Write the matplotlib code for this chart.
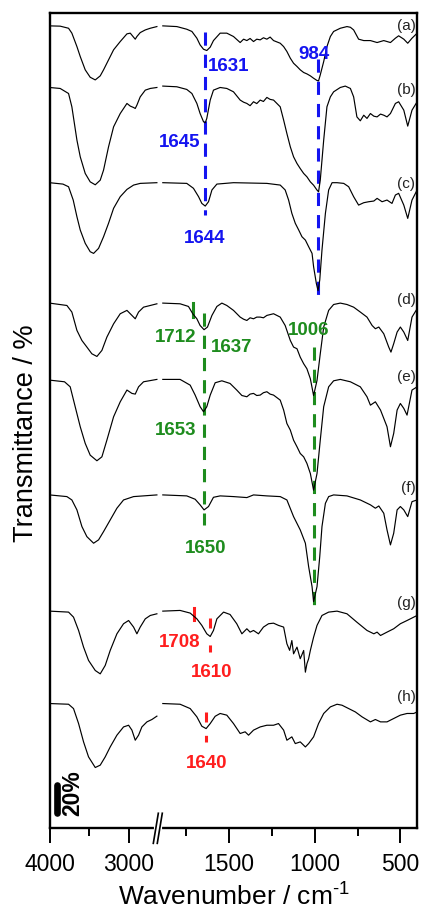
import matplotlib
matplotlib.use('Agg')  # no display
import matplotlib.pyplot as plt
import numpy as np

plt.rcParams['font.family'] = ['Liberation Sans', 'DejaVu Sans']
plt.rcParams['mathtext.fontset'] = 'custom'
plt.rcParams['mathtext.rm'] = 'Liberation Sans'
plt.rcParams['lines.scale_dashes'] = False

# ---- spectra: wavenumber (cm-1) and transmittance (%) ----
a_wn = [4000, 3865, 3759, 3717, 3653, 3611, 3548, 3485, 3421, 3358, 3316, 3253, 3189, 3105, 3020, 2978, 2936,
        2915, 2894, 2852, 2788, 2725, 2641,
        1888, 1806, 1748, 1718, 1689, 1670, 1650, 1631, 1611, 1592, 1553, 1514, 1475, 1436, 1416, 1397, 1378,
        1358, 1339, 1319, 1300, 1280, 1261, 1241, 1202, 1182, 1163, 1143, 1124, 1104, 1085, 1065, 1046, 1026,
        1007, 987, 978, 968, 948, 929, 909, 890, 851, 812, 792, 773, 744, 714, 675, 636, 597, 558, 529, 510,
        480, 457, 432, 402]
a_t = [100, 99.8, 98.3, 94.8, 85.2, 78.1, 68.6, 63.3, 61.4, 64.3, 68.6, 75.7, 82.9, 88.8, 94.3, 94.8, 91.9,
       90.5, 92.4, 95.2, 97.1, 98.3, 99.5,
       100, 99.5, 97.6, 96, 91.2, 86.4, 83.3, 82.4, 84.8, 89.5, 94.8, 94.8, 92.4, 88.1, 90.5, 89.5, 91,
       88.8, 90.5, 90, 91.5, 90.5, 92, 89.5, 87.6, 85.2, 81.7, 76.9, 73.3, 71, 68.6, 66.7, 65.7, 64.3,
       62.6, 61, 60.7, 65, 74.5, 85.2, 92.4, 96, 98.3, 99.5, 99, 97.1, 90.5, 89.5, 89.5, 88.1, 89.5, 88.1,
       91.2, 92.9, 90.5, 87.6, 91.2, 94.8]

b_wn = [4000, 3865, 3759, 3717, 3653, 3611, 3548, 3485, 3421, 3358, 3316, 3253, 3189, 3105, 3020, 2978, 2936,
        2915, 2894, 2852, 2788, 2725, 2641,
        1888, 1806, 1748, 1718, 1689, 1670, 1650, 1640, 1631, 1611, 1592, 1553, 1514, 1475, 1436, 1416, 1397,
        1378, 1358, 1339, 1319, 1300, 1280, 1261, 1241, 1202, 1182, 1163, 1143, 1124, 1104, 1085, 1065, 1046,
        1026, 1007, 987, 978, 968, 948, 929, 909, 890, 851, 822, 792, 773, 754, 734, 714, 695, 675, 655, 636,
        616, 597, 578, 558, 529, 510, 480, 457, 432, 402]
b_t = [100, 99.3, 95.7, 86.2, 62.4, 50.5, 38.6, 32.6, 30.5, 33.8, 41, 57.6, 71.9, 81.4, 88.6, 86.7, 85.7,
       85, 87.4, 93.3, 98.1, 99.3, 100,
       101, 100.5, 98.6, 95.7, 88.6, 81.4, 75.5, 74.8, 77.9, 91, 98.1, 100, 99.3, 96.9, 91, 89.5, 88.6,
       87, 89.8, 88.5, 91, 90, 92.9, 91.5, 91, 86.2, 76.7, 67.1, 57.6, 50.5, 45.7, 42.1, 38.6, 36.2,
       32.6, 30.2, 26.7, 25.5, 33.8, 62.4, 86.2, 93.3, 96.9, 100, 101, 99.3, 93.3, 79, 76.2, 80.2, 77.9,
       81.4, 79.5, 79, 81, 80.2, 79, 81.4, 88.6, 89.8, 83.8, 72.4, 83.8, 89.8]

c_wn = [4000, 3830, 3759, 3700, 3653, 3611, 3548, 3485, 3442, 3379, 3316, 3253, 3189, 3105, 3020, 2936, 2852,
        2641,
        1888, 1748, 1709, 1679, 1660, 1640, 1621, 1601, 1572, 1475, 1280, 1202, 1173, 1153, 1134, 1114, 1094,
        1075, 1055, 1036, 1026, 1016, 1007, 991, 981, 971, 958, 938, 919, 899, 870, 831, 802, 773, 744, 714,
        685, 655, 636, 607, 578, 549, 529, 510, 480, 457, 432, 402]
c_t = [100, 99, 97.1, 87.6, 75.7, 66.2, 56.7, 50.7, 49.5, 53.1, 61.4, 71, 81.7, 90, 95.2, 98.3, 99.5,
       100,
       100, 99.5, 96, 90, 85.2, 83.3, 86.4, 94.8, 99, 100, 99.5, 98.3, 94.8, 87.6, 78.1, 71, 66.2,
       61.4, 59, 54.3, 51.9, 49.5, 40, 28.1, 22.9, 30.5, 51.9, 78.1, 94.8, 100, 100, 99.5, 97.1, 90, 84, 85.7,
       86.4, 86.9, 88.8, 86.4, 87.6, 85.2, 91.2, 92.4, 84, 74.5, 87.6, 94.8]

d_wn = [4000, 3780, 3717, 3653, 3590, 3527, 3464, 3400, 3337, 3274, 3189, 3105, 3020, 2957, 2915, 2873, 2810,
        2725, 2641,
        1888, 1787, 1738, 1713, 1689, 1670, 1647, 1627, 1601, 1572, 1543, 1514, 1475, 1436, 1416, 1397, 1378,
        1358, 1339, 1319, 1300, 1280, 1241, 1202, 1173, 1143, 1124, 1104, 1085, 1065, 1046, 1026, 1007, 987,
        968, 948, 919, 890, 851, 812, 773, 734, 695, 665, 646, 626, 597, 568, 555, 539, 519, 500, 480, 457,
        432, 402]
d_t = [100, 98.3, 93.6, 80.5, 73.3, 68.6, 63.8, 61.9, 66.2, 75.7, 85.2, 92.4, 94.8, 91.2, 88.8, 93.6, 97.1,
       98.3, 99.5,
       100, 99.5, 97.6, 92.4, 88.8, 84, 81, 82.9, 91.2, 97.6, 100, 98.3, 94.8, 90, 88.5, 87.6, 89.5,
       88.8, 90, 90, 89.5, 91.2, 92.4, 90, 84, 73.3, 68.6, 67.4, 61.4, 56.7, 53.1, 46, 34, 44.8,
       63.8, 82.9, 94.8, 99, 100, 99, 97.1, 93.6, 90, 84, 81.7, 82.9, 78.1, 68.6, 65, 71, 79.3, 82.9, 79.3, 73.3,
       90, 96]

e_wn = [4000, 3810, 3738, 3675, 3611, 3548, 3485, 3400, 3337, 3274, 3189, 3105, 3020, 2957, 2915, 2873, 2810,
        2641,
        1888, 1787, 1728, 1699, 1670, 1650, 1631, 1611, 1582, 1543, 1495, 1456, 1426, 1397, 1378, 1358, 1339,
        1319, 1300, 1280, 1261, 1241, 1202, 1182, 1163, 1143, 1124, 1104, 1085, 1065, 1046, 1026, 1007, 987,
        968, 948, 919, 890, 851, 792, 734, 695, 675, 646, 616, 578, 558, 539, 519, 500, 480, 461, 432, 402]
e_t = [100, 98.8, 95.2, 81, 66.7, 54.8, 46.4, 42.4, 45.2, 57.1, 73.8, 84.5, 92.9, 90.5, 90, 95.2, 98.8,
       100.5,
       100.5, 100.5, 96.4, 89.3, 81, 77.4, 81, 89.3, 98.1, 99.5, 97.6, 92.9, 89, 88.1, 90, 90.5, 89,
       89.3, 91, 91.7, 90, 89.3, 85.7, 78.6, 69, 64.3, 57.1, 52.4, 47.6, 45.2, 40.5, 33.3, 21.4, 33.3,
       57.1, 81, 95.2, 99.5, 100.5, 98.8, 95.2, 88.1, 82.1, 84.5, 78.6, 66.7, 52.4, 61.9, 78.6, 83.3, 79.8, 75,
       92.9, 95.2]

f_wn = [4000, 3780, 3717, 3653, 3590, 3527, 3442, 3379, 3316, 3232, 3147, 3063, 2936, 2641,
        1888, 1748, 1699, 1670, 1647, 1621, 1592, 1553, 1475, 1397, 1358, 1280, 1202, 1163, 1124, 1085, 1055,
        1036, 1016, 1007, 987, 971, 958, 938, 919, 890, 812, 734, 675, 646, 626, 597, 578, 558, 539, 519, 500,
        480, 457, 432, 402]
f_t = [100, 98.8, 96.4, 89.3, 77.4, 70.2, 65.5, 67.9, 73.8, 82.1, 90.5, 96.4, 98.8, 100,
       100, 99.3, 96.9, 92.9, 89.3, 91.7, 98.3, 99.3, 98.8, 98.1, 100, 99.3, 98.8, 96.4, 84.5, 75, 65.5,
       48.8, 34.5, 23.8, 34.5, 56, 77.4, 94, 98.8, 100, 99.3, 96.4, 92.9, 90.5, 92.1, 86.9, 75, 64.3, 72.6,
       89.3, 91.7, 89.3, 84.5, 95.2, 96.4]

g_wn = [4000, 3759, 3696, 3632, 3569, 3506, 3421, 3358, 3295, 3232, 3147, 3063, 2999, 2936, 2894, 2852, 2788,
        2725, 2641,
        1888, 1787, 1728, 1689, 1660, 1631, 1611, 1592, 1572, 1533, 1495, 1456, 1426, 1397, 1378, 1358, 1329,
        1300, 1270, 1241, 1212, 1182, 1163, 1147, 1134, 1124, 1104, 1085, 1065, 1055, 1046, 1036, 1026, 1007,
        987, 958, 919, 870, 812, 754, 695, 655, 636, 616, 578, 539, 500, 461, 422, 402]
g_t = [100, 99.3, 95.7, 86.2, 74.3, 64.8, 57.6, 55.2, 61.2, 71.9, 83.8, 91, 93.3, 88.6, 83.8, 88.6, 94.5,
       96.9, 98.1,
       100, 100.5, 98.6, 94.5, 89.8, 83.8, 81.9, 86.2, 94.5, 99.3, 97.6, 91, 83.8, 87.4, 85, 86.2, 83.8,
       88.6, 91, 91.4, 89.8, 88.6, 76.7, 72, 79, 69.5, 74.3, 66, 71.9, 56.4, 62.4, 66, 71.9, 81.4,
       89.8, 96.9, 99.3, 100, 98.1, 92.1, 86.2, 83.8, 85, 82.6, 85, 87.4, 91, 93.3, 95.7, 96.9]

h_wn = [4000, 3759, 3696, 3632, 3569, 3506, 3421, 3358, 3295, 3232, 3147, 3063, 2999, 2957, 2915, 2873, 2831,
        2767, 2704, 2641,
        1888, 1787, 1728, 1689, 1660, 1635, 1611, 1582, 1553, 1514, 1475, 1436, 1407, 1387, 1358, 1319, 1280,
        1241, 1212, 1182, 1163, 1134, 1114, 1085, 1055, 1036, 1007, 978, 948, 909, 870, 841, 802, 763, 724,
        675, 646, 616, 578, 539, 500, 461, 422, 402]
h_t = [100, 99.5, 96.4, 85.7, 72.6, 61.9, 54.3, 56, 61.9, 69, 77.4, 83.3, 84.5, 81, 73.8, 77.4, 83.3,
       86.9, 88.6, 91,
       100, 99.5, 96.4, 90.5, 83.8, 82.1, 85.7, 90.9, 92.9, 91.7, 85.7, 78.6, 79.8, 77.4, 81, 83.3, 84.5,
       84.5, 85.7, 81, 73.8, 76.2, 71.4, 72.6, 69, 71.4, 76.2, 85.7, 92.9, 97.6, 99.5, 98.8, 96.4, 94, 90.5,
       86.9, 88.6, 86.9, 86.9, 89.3, 91.7, 92.9, 92.9, 94]

names = ['(a)', '(b)', '(c)', '(d)', '(e)', '(f)', '(g)', '(h)']
offsets = [572, 528, 460, 374, 319, 237, 154, 88]   # vertical stacking, % units
spectra = [(a_wn, a_t), (b_wn, b_t), (c_wn, c_t), (d_wn, d_t),
           (e_wn, e_t), (f_wn, f_t), (g_wn, g_t), (h_wn, h_t)]

# peak annotations
blue_peaks = ['1631', '984', '1645', '1644']
green_peaks = ['1712', '1637', '1006', '1653', '1650']
red_peaks = ['1708', '1610', '1640']

BLUE = '#1414f0'
GREEN = '#1e8c1e'
RED = '#ff1e1e'

# broken x axis: 4000-2640 and 1922-400
bp_wn = [400, 1922, 2640, 4000]
bp_u = [0, 260.3, 260.31, 367.7]


def fwd(x):
    return np.interp(x, bp_wn, bp_u)


def inv(u):
    return np.interp(u, bp_u, bp_wn)


fig = plt.figure(figsize=(4.22, 9.08), dpi=100)
ax = fig.add_axes([0.1173, 0.0881, 0.872, 0.8979])
ax.set_xscale('function', functions=(fwd, inv))
ax.set_xlim(4000, 400)
ax.set_ylim(-0.9, 581.4)

label_y = [571.7, 526, 459.4, 376.2, 321, 241.7, 159.6, 92.9]
for (wn, t), off, name, ly in zip(spectra, offsets, names, label_y):
    wn = np.asarray(wn, dtype=float)
    y = off + np.asarray(t, dtype=float) - 100
    for m in (wn >= 2600, wn <= 1900):
        ax.plot(wn[m], y[m], color='k', lw=0.85, zorder=3)
    ax.text(412, ly, name, ha='right', va='center', fontsize=11, color='#222222')

# dashed guide lines
dash = (0, (9.5, 6.5))
ax.plot([1644, 1644], [567.6, 436.9], color=BLUE, lw=2.2, ls=dash, zorder=2)
ax.plot([984, 984], [548.4, 373.9], color=BLUE, lw=2.2, ls=dash, zorder=2)
ax.plot([1648, 1648], [366.9, 215.5], color=GREEN, lw=2.2, ls=dash, zorder=2)
ax.plot([1007, 1007], [342.6, 152.6], color=GREEN, lw=2.2, ls=dash, zorder=2)
ax.plot([1712, 1712], [374, 364], color=GREEN, lw=2.2, zorder=2)
ax.plot([1703, 1703], [156, 147.6], color=RED, lw=2.2, zorder=2)
ax.plot([1611, 1611], [149, 125], color=RED, lw=2.2, ls=(0, (7.2, 12.2)), zorder=2)
ax.plot([1634, 1634], [82.1, 60.7], color=RED, lw=2.2, ls=(0, (7.2, 9.6)), zorder=2)

# peak labels
tk = dict(fontsize=13.5, fontweight='bold', va='baseline')
ax.text(1623, 539.8, blue_peaks[0], color=BLUE, ha='left', **tk)
ax.text(1002, 548.1, blue_peaks[1], color=BLUE, ha='center', **tk)
ax.text(1670, 485.7, blue_peaks[2], color=BLUE, ha='right', **tk)
ax.text(1645, 416.7, blue_peaks[3], color=BLUE, ha='center', **tk)
ax.text(1689, 346.4, green_peaks[0], color=GREEN, ha='right', **tk)
ax.text(1607, 339.3, green_peaks[1], color=GREEN, ha='left', **tk)
ax.text(1038, 351.2, green_peaks[2], color=GREEN, ha='center', **tk)
ax.text(1689, 279.8, green_peaks[3], color=GREEN, ha='right', **tk)
ax.text(1640, 195.7, green_peaks[4], color=GREEN, ha='center', **tk)
ax.text(1670, 128.1, red_peaks[0], color=RED, ha='right', **tk)
ax.text(1603, 106.7, red_peaks[1], color=RED, ha='center', **tk)
ax.text(1633, 41.7, red_peaks[2], color=RED, ha='center', **tk)

# 20 % scale bar
ax.plot([3906, 3906], [10, 30], color='k', lw=4.8, solid_capstyle='round')
ax.text(3700, 23.9, '20%', rotation=90, ha='center', va='center',
        fontsize=16.5, fontweight='bold')

# axes styling
for s in ax.spines.values():
    s.set_linewidth(1.7)
ax.set_xticks([4000, 3000, 1500, 1000, 500])
ax.set_xticklabels(['4000', '3000', '1500', '1000', '500'])
ax.set_xticks([3500, 1750, 1250, 750], minor=True)
ax.xaxis.set_minor_formatter(plt.NullFormatter())
ax.tick_params(axis='x', which='major', direction='out', length=11, width=1.4,
               labelsize=16.5, pad=7)
ax.tick_params(axis='x', which='minor', direction='out', length=6, width=1.4)
ax.tick_params(axis='x', top=False)
ax.tick_params(axis='y', which='both', left=False, right=False, labelleft=False)

ax.set_xlabel(r'Wavenumber / cm$^{\text{-1}}$', fontsize=19)
ax.xaxis.set_label_coords(0.5, -0.066)
ax.set_ylabel('Transmittance / %', fontsize=19.5)
ax.yaxis.set_label_coords(-0.029, 0.484)

# break marks on the bottom axis
tr = ax.transAxes
ax.plot([0.2890, 0.3004], [0, 0], color='white', lw=3, transform=tr, clip_on=False, zorder=5)
ax.plot([0.2821, 0.2957], [-0.0188, 0.0181], color='k', lw=1.2, transform=tr, clip_on=False, zorder=6)
ax.plot([0.2929, 0.3065], [-0.0188, 0.0181], color='k', lw=1.2, transform=tr, clip_on=False, zorder=6)

plt.savefig('out.png', dpi=100)
plt.close(fig)
